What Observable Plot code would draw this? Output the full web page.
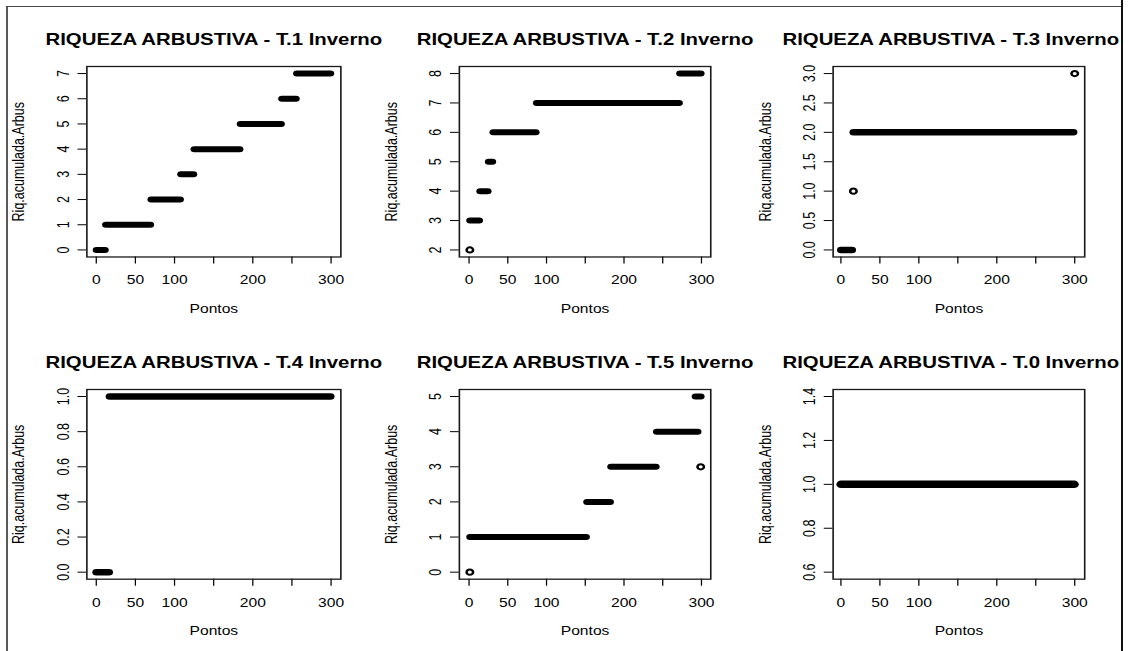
<!DOCTYPE html>
<html>
<head>
<meta charset="utf-8">
<script src="https://cdn.jsdelivr.net/npm/d3@7"></script>
<script src="https://cdn.jsdelivr.net/npm/@observablehq/plot@0.6"></script>
<style>
html, body { margin: 0; padding: 0; background: #fff; }
#clip { position: absolute; left: 0; top: 0; width: 1121px; height: 651px; overflow: hidden; }
#stage { position: absolute; left: 0; top: 0; width: 904px; height: 651px; transform: scaleX(1.25); transform-origin: 0 0; }
.panel { position: absolute; }
.fr { position: absolute; }
</style>
</head>
<body>
<div id="clip"><div id="stage"></div></div>
<div class="fr" style="left:6px;top:6px;width:2px;height:645px;background:#5a5a5a"></div>
<div class="fr" style="left:6px;top:6px;width:1116px;height:1px;background:#444"></div>
<div class="fr" style="left:1121px;top:0px;width:2px;height:651px;background:#111"></div>
<script>
// ---- data ----
const titles = [
  "RIQUEZA ARBUSTIVA - T.1 Inverno",
  "RIQUEZA ARBUSTIVA - T.2 Inverno",
  "RIQUEZA ARBUSTIVA - T.3 Inverno",
  "RIQUEZA ARBUSTIVA - T.4 Inverno",
  "RIQUEZA ARBUSTIVA - T.5 Inverno",
  "RIQUEZA ARBUSTIVA - T.0 Inverno"
];
const xAxisLabel = "Pontos";
const yAxisLabel = "Riq.acumulada.Arbus";

// runs of consecutive points with the same value: start point, end point, value
const t1Starts = [1, 13, 71, 109, 126, 185, 238, 257];
const t1Ends   = [12, 70, 108, 125, 184, 237, 256, 300];
const t1Values = [0, 1, 2, 3, 4, 5, 6, 7];

const t2Starts = [1, 2, 15, 26, 32, 88, 273];
const t2Ends   = [1, 14, 25, 31, 87, 272, 300];
const t2Values = [2, 3, 4, 5, 6, 7, 8];

const t3Starts = [1, 16, 17, 300];
const t3Ends   = [15, 16, 299, 300];
const t3Values = [0, 1, 2, 3];

const t4Starts = [1, 18];
const t4Ends   = [17, 300];
const t4Values = [0, 1];

const t5Starts = [1, 2, 153, 184, 243, 293, 299];
const t5Ends   = [1, 152, 183, 242, 296, 300, 299];
const t5Values = [0, 1, 2, 3, 4, 5, 3];

const t0Starts = [1];
const t0Ends   = [300];
const t0Values = [1];

const xTicks = [0, 50, 100, 150, 200, 250, 300];
const xTickLabels = ["0", "50", "100", "", "200", "", "300"];

const yTicks1 = [0, 1, 2, 3, 4, 5, 6, 7];
const yTicks2 = [2, 3, 4, 5, 6, 7, 8];
const yTicks3 = [0, 0.5, 1, 1.5, 2, 2.5, 3];
const yTickLabels3 = ["0.0", "0.5", "1.0", "1.5", "2.0", "2.5", "3.0"];
const yTicks4 = [0, 0.2, 0.4, 0.6, 0.8, 1];
const yTickLabels4 = ["0.0", "0.2", "0.4", "0.6", "0.8", "1.0"];
const yTicks5 = [0, 1, 2, 3, 4, 5];
const yTicks0 = [0.6, 0.8, 1, 1.2, 1.4];
const yTickLabels0 = ["0.6", "0.8", "1.0", "1.2", "1.4"];

const xDomains = [[-12, 312.5], [-12.5, 312], [-10, 312.8], [-12, 312.5], [-12.5, 312], [-10, 312.8]];
const yDomains = [[-0.28, 7.28], [1.76, 8.24], [-0.12, 3.12], [-0.04, 1.04], [-0.2, 5.2], [0.568, 1.432]];

const panels = [
  {title: titles[0], starts: t1Starts, ends: t1Ends, values: t1Values, yTicks: yTicks1, yLabels: yTicks1.map(String)},
  {title: titles[1], starts: t2Starts, ends: t2Ends, values: t2Values, yTicks: yTicks2, yLabels: yTicks2.map(String)},
  {title: titles[2], starts: t3Starts, ends: t3Ends, values: t3Values, yTicks: yTicks3, yLabels: yTickLabels3},
  {title: titles[3], starts: t4Starts, ends: t4Ends, values: t4Values, yTicks: yTicks4, yLabels: yTickLabels4},
  {title: titles[4], starts: t5Starts, ends: t5Ends, values: t5Values, yTicks: yTicks5, yLabels: yTicks5.map(String)},
  {title: titles[5], starts: t0Starts, ends: t0Ends, values: t0Values, yTicks: yTicks0, yLabels: yTickLabels0}
];

// ---- layout ----
const S = 1.25; // horizontal stretch of the original picture
const colBox = [[86, 340], [459.3, 710.7], [832.7, 1084.3]];
const rowBox = [[65.5, 256], [389.3, 579]];
const titleShift = [0, 0, -6.5]; // design px, keeps the last column's title inside the frame
const bandWidths = [6, 6, 6.5, 6.5, 6, 7.5];
const ML = 70, MR = 50, MT = 45, MB = 66;
const FONT = "'Liberation Sans', Arial, Helvetica, sans-serif";
const stage = document.getElementById("stage");

panels.forEach((p, i) => {
  const col = i % 3, row = Math.floor(i / 3);
  const bl = colBox[col][0] / S, br = colBox[col][1] / S;
  const [bt, bb] = rowBox[row];
  const W = br - bl + ML + MR, H = bb - bt + MT + MB;
  const runs = p.starts.map((s, j) => ({x1: s, x2: p.ends[j], y: p.values[j]}));
  const lines = runs.filter(r => r.x2 > r.x1);
  const singles = runs.filter(r => r.x2 === r.x1);
  const chart = Plot.plot({
    width: W, height: H,
    marginLeft: ML, marginRight: MR, marginTop: MT, marginBottom: MB,
    style: {background: "transparent", fontFamily: FONT, fontSize: "12.5px", overflow: "visible", maxWidth: "none", color: "#000"},
    x: {domain: xDomains[i], ticks: xTicks, tickFormat: d => xTickLabels[xTicks.indexOf(d)], tickSize: 7, tickPadding: 11.5, label: null},
    y: {domain: yDomains[i], ticks: p.yTicks, tickFormat: () => "", tickSize: 7, label: null},
    marks: [
      Plot.ruleY(lines, {x1: "x1", x2: "x2", y: "y", stroke: "#000", strokeWidth: bandWidths[i], strokeLinecap: "round"}),
      Plot.dot(singles, {x: "x1", y: "y", r: 2.6, stroke: "#000", strokeWidth: 2, fill: "none"}),
      Plot.frame({stroke: "#1a1a1a", strokeWidth: 1.3}),
      Plot.text(p.yTicks, {y: d => d, text: (d, k) => p.yLabels[k], frameAnchor: "left", rotate: -90, textAnchor: "middle", lineAnchor: "bottom", dx: -14.5, fontSize: 12.5, fill: "#000"}),
      Plot.text([p.title], {text: d => d, frameAnchor: "top", textAnchor: "middle", dx: titleShift[col], dy: -21.5, lineAnchor: "bottom", fontSize: 16.3, fontWeight: "bold", fill: "#000"}),
      Plot.text([xAxisLabel], {text: d => d, frameAnchor: "bottom", textAnchor: "middle", dy: 56, lineAnchor: "bottom", fontSize: 12.5, fill: "#000"}),
      Plot.text([yAxisLabel], {text: d => d, frameAnchor: "left", textAnchor: "middle", rotate: -90, dx: -50, lineAnchor: "bottom", fontSize: 12.5, fill: "#000"})
    ]
  });
  chart.classList.add("panel");
  chart.style.left = (bl - ML) + "px";
  chart.style.top = (bt - MT) + "px";
  stage.appendChild(chart);
});
</script>
</body>
</html>
